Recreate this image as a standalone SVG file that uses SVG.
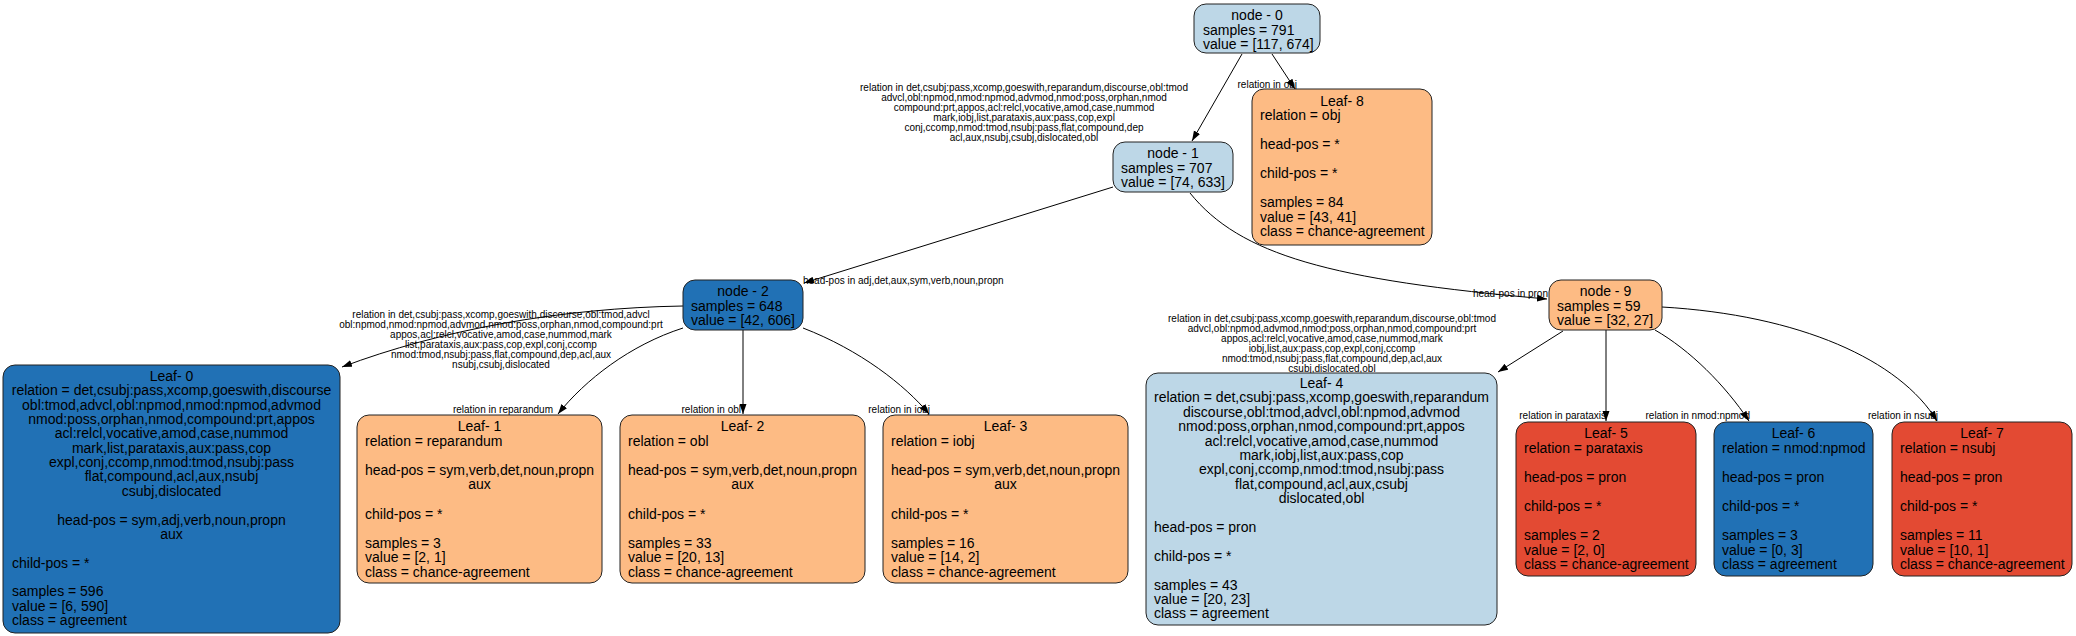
<svg xmlns="http://www.w3.org/2000/svg" width="2076" height="636" viewBox="0 0 2076 636">
<style>
text{font-family:"Liberation Sans",Arial,Helvetica,sans-serif;fill:#000}
.t{font-size:14px}
.e{font-size:10px}
.c{text-anchor:middle}
.r{text-anchor:end}
.box{stroke:#222;stroke-width:1}
.lb{fill:#bdd7e7}.db{fill:#2171b5}.or{fill:#fdbb84}.rd{fill:#e34a33}
.edge{fill:none;stroke:#000;stroke-width:1;marker-end:url(#ah)}
</style>
<defs>
<marker id="ah" markerUnits="userSpaceOnUse" markerWidth="10" markerHeight="8" refX="10" refY="3.5" orient="auto">
<path d="M0,0 L10,3.5 L0,7 z" fill="#000"/>
</marker>
</defs>
<rect width="2076" height="636" fill="#fff"/>

<g id="connectors">
<path class="edge" d="M1242,54 L1192,141"/>
<path class="edge" d="M1272,54 L1295,89"/>
<path class="edge" d="M1113,187 L804,283"/>
<path class="edge" d="M1190,193 C1240,255 1330,280 1547,299"/>
<path class="edge" d="M683,306 C560,308 440,330 342,367"/>
<path class="edge" d="M683,328 C630,345 585,380 558,414"/>
<path class="edge" d="M743,330 L743,414"/>
<path class="edge" d="M803,328 C860,350 905,385 929,414"/>
<path class="edge" d="M1563,331 L1498,372"/>
<path class="edge" d="M1606,330 L1606,421"/>
<path class="edge" d="M1655,330 C1690,350 1725,385 1749,421"/>
<path class="edge" d="M1662,307 C1800,315 1900,360 1937,421"/>

<g class="e c">
<text x="1024" y="90.5">relation in det,csubj:pass,xcomp,goeswith,reparandum,discourse,obl:tmod</text>
<text x="1024" y="100.5">advcl,obl:npmod,nmod:npmod,advmod,nmod:poss,orphan,nmod</text>
<text x="1024" y="110.5">compound:prt,appos,acl:relcl,vocative,amod,case,nummod</text>
<text x="1024" y="120.5">mark,iobj,list,parataxis,aux:pass,cop,expl</text>
<text x="1024" y="130.5">conj,ccomp,nmod:tmod,nsubj:pass,flat,compound,dep</text>
<text x="1024" y="140.5">acl,aux,nsubj,csubj,dislocated,obl</text>
</g>
<g class="e c">
<text x="501" y="318">relation in det,csubj:pass,xcomp,goeswith,discourse,obl:tmod,advcl</text>
<text x="501" y="328">obl:npmod,nmod:npmod,advmod,nmod:poss,orphan,nmod,compound:prt</text>
<text x="501" y="338">appos,acl:relcl,vocative,amod,case,nummod,mark</text>
<text x="501" y="348">list,parataxis,aux:pass,cop,expl,conj,ccomp</text>
<text x="501" y="358">nmod:tmod,nsubj:pass,flat,compound,dep,acl,aux</text>
<text x="501" y="368">nsubj,csubj,dislocated</text>
</g>
<g class="e c">
<text x="1332" y="321.5">relation in det,csubj:pass,xcomp,goeswith,reparandum,discourse,obl:tmod</text>
<text x="1332" y="331.5">advcl,obl:npmod,advmod,nmod:poss,orphan,nmod,compound:prt</text>
<text x="1332" y="341.5">appos,acl:relcl,vocative,amod,case,nummod,mark</text>
<text x="1332" y="351.5">iobj,list,aux:pass,cop,expl,conj,ccomp</text>
<text x="1332" y="361.5">nmod:tmod,nsubj:pass,flat,compound,dep,acl,aux</text>
<text x="1332" y="371.5">csubj,dislocated,obl</text>
</g>
<g class="e r">
<text x="1297" y="88">relation in obj</text>
<text x="553" y="412.5">relation in reparandum</text>
<text x="741" y="412.5">relation in obl</text>
<text x="930" y="412.5">relation in iobj</text>
<text x="1606" y="419">relation in parataxis</text>
<text x="1750" y="419">relation in nmod:npmod</text>
<text x="1938" y="419">relation in nsubj</text>
<text x="1548" y="297">head-pos in pron</text>
</g>
<text class="e" x="803" y="284">head-pos in adj,det,aux,sym,verb,noun,propn</text>
</g>

<g id="node-0">
<rect class="box lb" x="1194" y="4" width="126" height="49" rx="12"/>
<text class="t c" x="1257" y="20">node - 0</text>
<text class="t" x="1203" y="34.5">samples = 791</text>
<text class="t" x="1203" y="49">value = [117, 674]</text>
</g>

<g id="node-1">
<rect class="box lb" x="1113" y="142" width="120" height="50" rx="12"/>
<text class="t c" x="1173" y="158">node - 1</text>
<text class="t" x="1121" y="172.5">samples = 707</text>
<text class="t" x="1121" y="187">value = [74, 633]</text>
</g>

<g id="node-2">
<rect class="box db" x="683" y="280" width="120" height="50" rx="12"/>
<text class="t c" x="743" y="296">node - 2</text>
<text class="t" x="691" y="310.5">samples = 648</text>
<text class="t" x="691" y="325">value = [42, 606]</text>
</g>

<g id="node-9">
<rect class="box or" x="1549" y="280" width="113" height="50" rx="12"/>
<text class="t c" x="1605.5" y="296">node - 9</text>
<text class="t" x="1557" y="310.5">samples = 59</text>
<text class="t" x="1557" y="325">value = [32, 27]</text>
</g>

<g id="leaf-8">
<rect class="box or" x="1252" y="89" width="180" height="156" rx="12"/>
<text class="t c" x="1342" y="105.5">Leaf- 8</text>
<text class="t" x="1260" y="120">relation = obj</text>
<text class="t" x="1260" y="149">head-pos = *</text>
<text class="t" x="1260" y="178">child-pos = *</text>
<text class="t" x="1260" y="207">samples = 84</text>
<text class="t" x="1260" y="221.5">value = [43, 41]</text>
<text class="t" x="1260" y="236">class = chance-agreement</text>
</g>

<g id="leaf-0">
<rect class="box db" x="3" y="365" width="337" height="268" rx="12"/>
<g class="t c">
<text x="171.5" y="381">Leaf- 0</text>
<text x="171.5" y="395.35">relation = det,csubj:pass,xcomp,goeswith,discourse</text>
<text x="171.5" y="409.7">obl:tmod,advcl,obl:npmod,nmod:npmod,advmod</text>
<text x="171.5" y="424.05">nmod:poss,orphan,nmod,compound:prt,appos</text>
<text x="171.5" y="438.4">acl:relcl,vocative,amod,case,nummod</text>
<text x="171.5" y="452.75">mark,list,parataxis,aux:pass,cop</text>
<text x="171.5" y="467.1">expl,conj,ccomp,nmod:tmod,nsubj:pass</text>
<text x="171.5" y="481.45">flat,compound,acl,aux,nsubj</text>
<text x="171.5" y="495.8">csubj,dislocated</text>
<text x="171.5" y="524.5">head-pos = sym,adj,verb,noun,propn</text>
<text x="171.5" y="538.85">aux</text>
</g>
<text class="t" x="12" y="567.55">child-pos = *</text>
<text class="t" x="12" y="596.25">samples = 596</text>
<text class="t" x="12" y="610.6">value = [6, 590]</text>
<text class="t" x="12" y="625">class = agreement</text>
</g>

<g id="leaf-1">
<rect class="box or" x="357" y="415" width="245" height="168" rx="12"/>
<text class="t c" x="479.5" y="431">Leaf- 1</text>
<text class="t" x="365" y="445.6">relation = reparandum</text>
<text class="t c" x="479.5" y="474.8">head-pos = sym,verb,det,noun,propn</text>
<text class="t c" x="479.5" y="489.4">aux</text>
<text class="t" x="365" y="518.6">child-pos = *</text>
<text class="t" x="365" y="547.8">samples = 3</text>
<text class="t" x="365" y="562.4">value = [2, 1]</text>
<text class="t" x="365" y="577">class = chance-agreement</text>
</g>

<g id="leaf-2">
<rect class="box or" x="620" y="415" width="245" height="168" rx="12"/>
<text class="t c" x="742.5" y="431">Leaf- 2</text>
<text class="t" x="628" y="445.6">relation = obl</text>
<text class="t c" x="742.5" y="474.8">head-pos = sym,verb,det,noun,propn</text>
<text class="t c" x="742.5" y="489.4">aux</text>
<text class="t" x="628" y="518.6">child-pos = *</text>
<text class="t" x="628" y="547.8">samples = 33</text>
<text class="t" x="628" y="562.4">value = [20, 13]</text>
<text class="t" x="628" y="577">class = chance-agreement</text>
</g>

<g id="leaf-3">
<rect class="box or" x="883" y="415" width="245" height="168" rx="12"/>
<text class="t c" x="1005.5" y="431">Leaf- 3</text>
<text class="t" x="891" y="445.6">relation = iobj</text>
<text class="t c" x="1005.5" y="474.8">head-pos = sym,verb,det,noun,propn</text>
<text class="t c" x="1005.5" y="489.4">aux</text>
<text class="t" x="891" y="518.6">child-pos = *</text>
<text class="t" x="891" y="547.8">samples = 16</text>
<text class="t" x="891" y="562.4">value = [14, 2]</text>
<text class="t" x="891" y="577">class = chance-agreement</text>
</g>

<g id="leaf-4">
<rect class="box lb" x="1146" y="373" width="351" height="252" rx="12"/>
<g class="t c">
<text x="1321.5" y="388">Leaf- 4</text>
<text x="1321.5" y="402.4">relation = det,csubj:pass,xcomp,goeswith,reparandum</text>
<text x="1321.5" y="416.8">discourse,obl:tmod,advcl,obl:npmod,advmod</text>
<text x="1321.5" y="431.2">nmod:poss,orphan,nmod,compound:prt,appos</text>
<text x="1321.5" y="445.6">acl:relcl,vocative,amod,case,nummod</text>
<text x="1321.5" y="460">mark,iobj,list,aux:pass,cop</text>
<text x="1321.5" y="474.4">expl,conj,ccomp,nmod:tmod,nsubj:pass</text>
<text x="1321.5" y="488.8">flat,compound,acl,aux,csubj</text>
<text x="1321.5" y="503.2">dislocated,obl</text>
</g>
<text class="t" x="1154" y="532">head-pos = pron</text>
<text class="t" x="1154" y="560.8">child-pos = *</text>
<text class="t" x="1154" y="589.6">samples = 43</text>
<text class="t" x="1154" y="604">value = [20, 23]</text>
<text class="t" x="1154" y="618.4">class = agreement</text>
</g>

<g id="leaf-5">
<rect class="box rd" x="1516" y="422" width="180" height="154" rx="12"/>
<text class="t c" x="1606" y="438">Leaf- 5</text>
<text class="t" x="1524" y="452.6">relation = parataxis</text>
<text class="t" x="1524" y="481.8">head-pos = pron</text>
<text class="t" x="1524" y="511">child-pos = *</text>
<text class="t" x="1524" y="540.2">samples = 2</text>
<text class="t" x="1524" y="554.8">value = [2, 0]</text>
<text class="t" x="1524" y="569.4">class = chance-agreement</text>
</g>

<g id="leaf-6">
<rect class="box db" x="1714" y="422" width="159" height="154" rx="12"/>
<text class="t c" x="1793.5" y="438">Leaf- 6</text>
<text class="t" x="1722" y="452.6">relation = nmod:npmod</text>
<text class="t" x="1722" y="481.8">head-pos = pron</text>
<text class="t" x="1722" y="511">child-pos = *</text>
<text class="t" x="1722" y="540.2">samples = 3</text>
<text class="t" x="1722" y="554.8">value = [0, 3]</text>
<text class="t" x="1722" y="569.4">class = agreement</text>
</g>

<g id="leaf-7">
<rect class="box rd" x="1892" y="422" width="180" height="154" rx="12"/>
<text class="t c" x="1982" y="438">Leaf- 7</text>
<text class="t" x="1900" y="452.6">relation = nsubj</text>
<text class="t" x="1900" y="481.8">head-pos = pron</text>
<text class="t" x="1900" y="511">child-pos = *</text>
<text class="t" x="1900" y="540.2">samples = 11</text>
<text class="t" x="1900" y="554.8">value = [10, 1]</text>
<text class="t" x="1900" y="569.4">class = chance-agreement</text>
</g>
</svg>
